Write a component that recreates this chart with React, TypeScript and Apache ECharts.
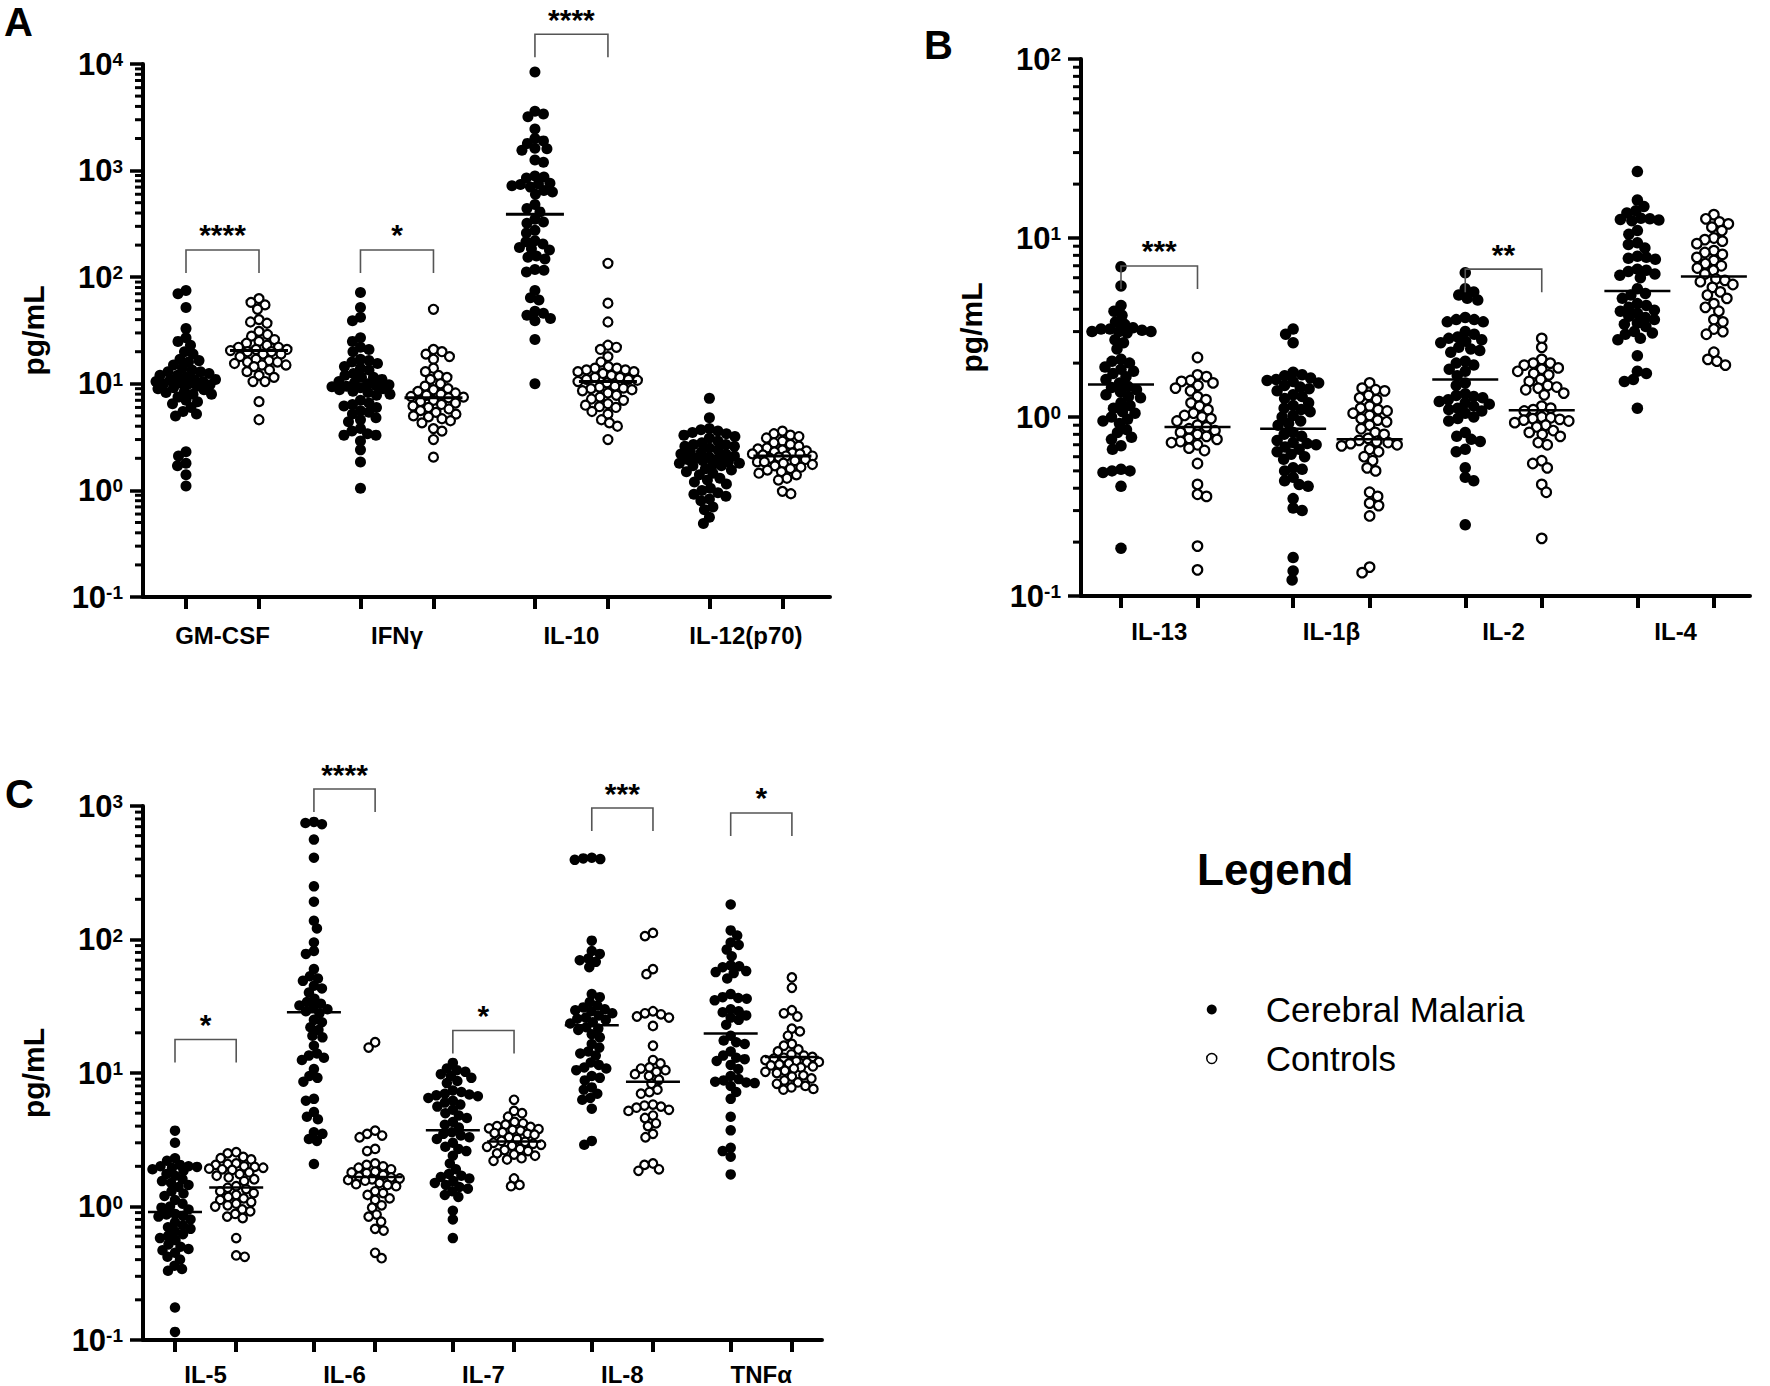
import React, { useEffect, useRef } from 'react';
import * as echarts from 'echarts';

const FONT = '"Liberation Sans", Arial, Helvetica, sans-serif';

// ---------------- Panel A ----------------
const panelACategories = ['GM-CSF', 'IFNγ', 'IL-10', 'IL-12(p70)'];
const gmcsfMalaria = [75, 70, 52, 33, 27, 25, 23, 20, 19, 17, 16.5, 16, 15, 14, 13.5, 13, 13, 12.5, 12, 12, 11.5, 11, 11, 10.8, 10.5, 10.5, 10.2, 10, 10, 9.8, 9.5, 9.2, 9, 8.8, 8.5, 8.3, 8, 8, 7.5, 7, 6.8, 6.5, 6, 5.5, 5.2, 5, 2.3, 2.1, 1.8, 1.7, 1.4, 1.1];
const gmcsfControls = [63, 58, 55, 50, 40, 38, 37, 31, 29, 28, 26, 25, 24, 23, 22, 22, 21, 21, 20.5, 20, 20, 19, 19, 18, 17, 16.5, 16, 16, 15.5, 15, 15, 14.5, 13.5, 13, 12, 11.5, 10.5, 10.5, 6.8, 4.6];
const ifngMalaria = [72, 52, 42, 39, 27, 25, 22, 21, 20, 17, 16.5, 16, 15.5, 14.5, 14, 13.5, 12.5, 12, 11.5, 11.5, 11, 10.5, 10.2, 10, 9.8, 9.6, 9.5, 9.4, 9.2, 9, 8.8, 8.5, 8.3, 8, 7.8, 7, 6.6, 6.4, 6.2, 6, 5.6, 5.4, 5.2, 4.8, 4.6, 4.4, 3.8, 3.6, 3.4, 3.3, 3.3, 2.9, 2.4, 1.85, 1.05];
const ifngControls = [50, 21, 20, 19, 18, 17, 14, 13, 12, 11.5, 11, 10, 9.5, 9, 8.8, 8.5, 8.2, 8, 7.8, 7.6, 7.5, 7.4, 7, 6.8, 6.6, 6.4, 6.2, 6, 5.8, 5.6, 5.4, 5.2, 5, 4.9, 4.7, 4.5, 4.3, 3.8, 3.6, 3.0, 2.05];
const il10Malaria = [8400, 3600, 3400, 3200, 2460, 2000, 1900, 1800, 1620, 1600, 1550, 1260, 1200, 890, 870, 850, 760, 750, 740, 720, 700, 650, 630, 600, 480, 440, 410, 350, 330, 320, 275, 260, 220, 215, 205, 190, 185, 180, 158, 154, 148, 118, 116, 112, 75, 64, 61, 48, 46, 44, 41, 39, 26, 10];
const il10Controls = [135, 57, 38, 23, 22, 21, 18, 16, 14.5, 14, 14, 13.5, 13.5, 13, 13, 12.5, 12, 11.5, 11.5, 11, 11, 10.8, 10.5, 10.2, 9.5, 9.3, 9.1, 9, 8.8, 8.6, 8.2, 7.8, 7.5, 7.2, 7, 6.5, 6.3, 6.1, 6, 5.5, 5.2, 4.6, 4.3, 4.0, 3.0];
const il12Malaria = [7.3, 4.8, 3.8, 3.7, 3.6, 3.5, 3.4, 3.3, 3.2, 3.1, 2.9, 2.8, 2.7, 2.7, 2.6, 2.6, 2.5, 2.4, 2.3, 2.3, 2.2, 2.2, 2.1, 2.05, 2.0, 2.0, 1.95, 1.9, 1.85, 1.8, 1.8, 1.75, 1.7, 1.7, 1.6, 1.55, 1.5, 1.45, 1.4, 1.3, 1.25, 1.2, 1.15, 1.05, 1.0, 0.95, 0.92, 0.88, 0.83, 0.8, 0.7, 0.66, 0.56, 0.49];
const il12Controls = [3.6, 3.4, 3.3, 3.2, 3.1, 2.9, 2.8, 2.7, 2.6, 2.5, 2.45, 2.4, 2.35, 2.3, 2.25, 2.2, 2.2, 2.15, 2.1, 2.1, 2.05, 2.0, 1.95, 1.9, 1.85, 1.85, 1.8, 1.75, 1.7, 1.65, 1.6, 1.55, 1.5, 1.45, 1.4, 1.3, 1.25, 0.98, 0.93];
const panelAMedianMalaria = [10.5, 9.5, 390, 1.93];
const panelAMedianControls = [20.5, 7.4, 10.5, 2.1];
const panelAStars = ['****', '*', '****', ''];
const panelABracketTop = [180, 180, 19000, 0];

// ---------------- Panel B ----------------
const panelBCategories = ['IL-13', 'IL-1β', 'IL-2', 'IL-4'];
const il13Malaria = [6.9, 5.4, 4.2, 3.9, 3.7, 3.4, 3.3, 3.15, 3.1, 3.1, 3.05, 3.0, 3.0, 3.0, 2.95, 2.7, 2.6, 2.4, 2.1, 2.05, 2.0, 1.9, 1.85, 1.8, 1.75, 1.68, 1.62, 1.55, 1.48, 1.46, 1.42, 1.38, 1.33, 1.3, 1.28, 1.2, 1.16, 1.12, 1.07, 1.05, 1.0, 0.97, 0.95, 0.92, 0.85, 0.82, 0.77, 0.75, 0.69, 0.66, 0.51, 0.5, 0.5, 0.49, 0.41, 0.185];
const il13Controls = [2.15, 1.72, 1.68, 1.6, 1.58, 1.55, 1.5, 1.45, 1.4, 1.3, 1.25, 1.2, 1.15, 1.1, 1.05, 1.02, 1.0, 0.98, 0.95, 0.9, 0.88, 0.86, 0.84, 0.82, 0.8, 0.78, 0.76, 0.75, 0.73, 0.72, 0.7, 0.67, 0.65, 0.55, 0.42, 0.37, 0.36, 0.19, 0.14];
const il1bMalaria = [3.1, 2.9, 2.6, 1.78, 1.72, 1.7, 1.65, 1.62, 1.6, 1.58, 1.55, 1.5, 1.47, 1.44, 1.4, 1.33, 1.3, 1.27, 1.2, 1.16, 1.12, 1.1, 1.07, 1.02, 1.0, 0.95, 0.92, 0.9, 0.82, 0.8, 0.78, 0.74, 0.72, 0.71, 0.7, 0.68, 0.66, 0.64, 0.62, 0.6, 0.58, 0.52, 0.51, 0.5, 0.46, 0.44, 0.42, 0.41, 0.35, 0.31, 0.3, 0.164, 0.138, 0.123];
const il1bControls = [1.55, 1.45, 1.42, 1.4, 1.32, 1.28, 1.25, 1.15, 1.12, 1.1, 1.08, 1.05, 1.02, 0.98, 0.96, 0.94, 0.9, 0.86, 0.82, 0.8, 0.76, 0.74, 0.73, 0.72, 0.71, 0.7, 0.69, 0.66, 0.64, 0.6, 0.57, 0.52, 0.5, 0.38, 0.36, 0.33, 0.32, 0.28, 0.145, 0.135];
const il2Malaria = [6.4, 5.2, 5.0, 4.8, 4.6, 4.5, 3.6, 3.5, 3.5, 3.4, 3.4, 3.0, 2.9, 2.8, 2.75, 2.7, 2.65, 2.6, 2.45, 2.4, 2.35, 2.3, 2.05, 2.0, 1.95, 1.85, 1.8, 1.7, 1.55, 1.5, 1.35, 1.32, 1.3, 1.28, 1.25, 1.22, 1.2, 1.18, 1.15, 1.12, 1.1, 1.08, 1.05, 1.0, 0.98, 0.95, 0.82, 0.78, 0.75, 0.73, 0.66, 0.64, 0.52, 0.46, 0.44, 0.25];
const il2Controls = [2.75, 2.45, 2.1, 2.0, 2.0, 1.95, 1.88, 1.85, 1.8, 1.75, 1.72, 1.62, 1.58, 1.5, 1.47, 1.45, 1.42, 1.36, 1.33, 1.15, 1.12, 1.1, 1.08, 1.0, 0.99, 0.98, 0.97, 0.96, 0.95, 0.93, 0.9, 0.88, 0.84, 0.82, 0.8, 0.78, 0.72, 0.7, 0.57, 0.55, 0.52, 0.42, 0.38, 0.21];
const il4Malaria = [23.5, 16.3, 15, 14.2, 13.8, 12.9, 12.8, 12.7, 12.6, 12.5, 11, 10.5, 9.4, 9.2, 8.8, 7.9, 7.8, 7.7, 7.6, 6.7, 6.6, 6.5, 6.3, 6.2, 6.0, 5.2, 4.9, 4.8, 4.6, 4.3, 4.2, 4.1, 3.95, 3.9, 3.8, 3.65, 3.6, 3.5, 3.35, 3.3, 3.2, 3.0, 2.95, 2.9, 2.75, 2.7, 2.2, 1.8, 1.75, 1.62, 1.58, 1.12];
const il4Controls = [13.5, 12.8, 12.3, 12, 11.5, 11, 10, 9.8, 9.6, 9.3, 8.5, 8.3, 8.1, 7.8, 7.5, 7.2, 7.0, 6.8, 6.6, 6.3, 5.9, 5.8, 5.7, 5.5, 5.3, 5.0, 4.8, 4.6, 4.3, 4.1, 3.9, 3.5, 3.4, 3.1, 3.0, 2.9, 2.3, 2.1, 2.05, 1.95];
const panelBMedianMalaria = [1.52, 0.86, 1.62, 5.05];
const panelBMedianControls = [0.88, 0.75, 1.09, 6.1];
const panelBStars = ['***', '', '**', ''];
const panelBBracketTop = [6.98, 0, 6.7, 0];

// ---------------- Panel C ----------------
const panelCCategories = ['IL-5', 'IL-6', 'IL-7', 'IL-8', 'TNFα'];
const il5Malaria = [3.7, 3.0, 2.3, 2.2, 2.05, 2.0, 2.0, 1.98, 1.95, 1.9, 1.85, 1.75, 1.7, 1.6, 1.55, 1.5, 1.45, 1.4, 1.3, 1.25, 1.2, 1.12, 1.05, 1.0, 0.98, 0.95, 0.88, 0.87, 0.85, 0.84, 0.8, 0.76, 0.72, 0.7, 0.68, 0.65, 0.62, 0.6, 0.58, 0.56, 0.52, 0.5, 0.48, 0.47, 0.45, 0.42, 0.4, 0.36, 0.34, 0.33, 0.175, 0.115];
const il5Controls = [2.55, 2.5, 2.35, 2.3, 2.25, 2.1, 2.08, 2.05, 2.0, 1.98, 1.95, 1.92, 1.9, 1.88, 1.8, 1.75, 1.7, 1.65, 1.6, 1.55, 1.42, 1.38, 1.35, 1.3, 1.26, 1.22, 1.18, 1.15, 1.12, 1.08, 1.05, 1.02, 1.0, 0.95, 0.92, 0.88, 0.84, 0.82, 0.58, 0.43, 0.42];
const il6Malaria = [760, 745, 730, 560, 410, 250, 192, 138, 121, 95, 82, 78, 60, 53, 51, 49, 45, 43, 40, 36, 34, 33, 32, 31, 30, 29, 28, 25, 24, 22, 21, 19, 18.5, 16, 14, 13.5, 13, 12.5, 10.7, 9.5, 9.2, 8.6, 6.4, 6.2, 5.1, 4.7, 4.5, 3.6, 3.5, 3.2, 3.1, 2.08];
const il6Controls = [17, 15.5, 3.7, 3.5, 3.4, 3.3, 2.7, 2.6, 2.1, 2.05, 2.0, 1.95, 1.9, 1.82, 1.8, 1.78, 1.72, 1.68, 1.65, 1.62, 1.6, 1.58, 1.56, 1.5, 1.47, 1.45, 1.42, 1.3, 1.26, 1.22, 1.15, 1.12, 1.02, 0.98, 0.87, 0.84, 0.77, 0.68, 0.66, 0.45, 0.41];
const il7Malaria = [11.9, 10.8, 10.5, 10.2, 9.8, 9.5, 9.2, 8.7, 8.4, 7.4, 7.2, 7.0, 6.9, 6.8, 6.7, 6.5, 6.2, 6.0, 5.8, 5.6, 5.3, 5.0, 4.8, 4.6, 4.3, 4.1, 3.9, 3.6, 3.5, 3.4, 3.3, 3.2, 3.0, 2.8, 2.7, 2.6, 2.4, 2.1, 1.9, 1.75, 1.7, 1.66, 1.62, 1.55, 1.5, 1.45, 1.4, 1.36, 1.3, 1.22, 1.18, 0.93, 0.8, 0.58];
const il7Controls = [6.3, 5.2, 5.0, 4.7, 4.3, 4.2, 4.1, 4.0, 3.95, 3.85, 3.8, 3.75, 3.7, 3.6, 3.55, 3.5, 3.45, 3.3, 3.2, 3.1, 3.05, 3.0, 2.95, 2.9, 2.85, 2.8, 2.7, 2.65, 2.6, 2.5, 2.45, 2.4, 2.3, 2.25, 2.2, 1.62, 1.45, 1.42];
const il8Malaria = [410, 405, 400, 395, 98, 82, 78, 72, 70, 68, 62, 39, 37, 34, 32, 31, 30, 29.5, 29, 28, 27, 26, 25.5, 25, 24, 23.5, 22, 21.5, 21, 19.5, 18.5, 16.5, 15.5, 14.5, 14, 13.5, 12, 11.5, 11, 10.8, 10.5, 9.5, 9.2, 8.8, 7.8, 7.5, 7.0, 6.5, 6.3, 5.4, 3.1, 2.9];
const il8Controls = [112, 106, 60, 55, 29, 28, 27.5, 26.5, 26, 22.5, 16, 12.5, 11.8, 11, 10.8, 10.5, 10.2, 9.8, 9.5, 8.9, 8.3, 7.5, 7.2, 7.0, 5.8, 5.7, 5.6, 5.5, 5.3, 5.2, 4.8, 4.6, 4.2, 4.0, 3.5, 3.3, 2.1, 2.05, 1.9, 1.85];
const tnfMalaria = [183, 117, 107, 95, 91, 84, 75, 64, 63, 62, 58, 57, 56, 51, 39, 37, 36.5, 36, 35, 30, 29, 28.5, 27, 26, 25, 23, 19, 17.5, 17, 16.5, 14.5, 13.5, 13, 12.7, 12.3, 11.5, 10.7, 9.5, 9.0, 8.8, 8.6, 8.5, 8.4, 8.0, 7.2, 6.4, 4.7, 3.72, 2.75, 2.6, 2.36, 1.74];
const tnfControls = [52, 43.5, 29.5, 28, 26.5, 21.5, 20.5, 19, 16.5, 16, 15, 14.5, 13.8, 13.5, 13.2, 13, 12.8, 12.5, 12.3, 12.1, 12, 11.8, 11.6, 11.4, 11.2, 11, 10.8, 10.4, 10.2, 10, 9.6, 9.4, 9.1, 8.8, 8.5, 8.3, 8.0, 7.8, 7.6, 7.5];
const panelCMedianMalaria = [0.91, 28.5, 3.72, 22.8, 19.8];
const panelCMedianControls = [1.39, 1.66, 3.07, 8.6, 13.2];
const panelCStars = ['*', '****', '*', '***', '*'];
const panelCBracketTop = [17.8, 1340, 20.8, 966, 887];

// ---------------- Layout (pixels) ----------------
const panels = [
  {
    cats: panelACategories,
    malaria: [gmcsfMalaria, ifngMalaria, il10Malaria, il12Malaria],
    controls: [gmcsfControls, ifngControls, il10Controls, il12Controls],
    medM: panelAMedianMalaria, medC: panelAMedianControls,
    stars: panelAStars, tops: panelABracketTop,
    left: 143, top: 64, width: 687, height: 533, x0: 186, unit: 73, gap: 2.39,
    yMin: 0.1, yMax: 10000, dot: 11, maxHalf: 30, medHalf: 29, medWidth: 3, labelMargin: 26,
  },
  {
    cats: panelBCategories,
    malaria: [il13Malaria, il1bMalaria, il2Malaria, il4Malaria],
    controls: [il13Controls, il1bControls, il2Controls, il4Controls],
    medM: panelBMedianMalaria, medC: panelBMedianControls,
    stars: panelBStars, tops: panelBBracketTop,
    left: 1081, top: 59, width: 669, height: 537, x0: 1121, unit: 76.5, gap: 2.25,
    yMin: 0.1, yMax: 100, dot: 11.5, maxHalf: 34, medHalf: 33, medWidth: 2.5, labelMargin: 23,
  },
  {
    cats: panelCCategories,
    malaria: [il5Malaria, il6Malaria, il7Malaria, il8Malaria, tnfMalaria],
    controls: [il5Controls, il6Controls, il7Controls, il8Controls, tnfControls],
    medM: panelCMedianMalaria, medC: panelCMedianControls,
    stars: panelCStars, tops: panelCBracketTop,
    left: 143, top: 806, width: 679, height: 535, x0: 175, unit: 61.2, gap: 2.27,
    yMin: 0.1, yMax: 1000, dot: 10.5, maxHalf: 27, medHalf: 27, medWidth: 2.5, labelMargin: 22,
  },
];

// beeswarm placement of the points of one group (horizontal offsets only)
function swarm(values: number[], center: number, unitPx: number, ppd: number, d: number, maxHalf: number): number[][] {
  const order = values.map((_, i) => i).sort((a, b) => values[b] - values[a]);
  const placed: { x: number; y: number }[] = [];
  const out: number[][] = [];
  let flip = 1;
  for (const i of order) {
    const y = Math.log10(values[i]) * ppd;
    let chosen: number | null = null;
    let best = 0;
    let bestDist = -1;
    for (let k = 0; k * 0.5 <= maxHalf; k++) {
      const step = k * 0.5;
      const cands = k === 0 ? [0] : [flip * step, -flip * step];
      for (const dx of cands) {
        let minD = Infinity;
        for (const p of placed) {
          const ex = dx - p.x;
          const ey = y - p.y;
          const dd = Math.sqrt(ex * ex + ey * ey);
          if (dd < minD) minD = dd;
        }
        if (minD >= d) { chosen = dx; break; }
        if (minD > bestDist + 0.01) { bestDist = minD; best = dx; }
      }
      if (chosen !== null) break;
    }
    const x = chosen !== null ? chosen : best;
    flip = -flip;
    placed.push({ x, y });
    out.push([center + x / unitPx, values[i]]);
  }
  return out;
}

function buildOption() {
  const grid: any[] = [];
  const xAxis: any[] = [];
  const yAxis: any[] = [];
  const series: any[] = [];

  panels.forEach((p, i) => {
    const xMin = (p.left - p.x0) / p.unit;
    const xMax = (p.left + p.width - p.x0) / p.unit;
    const ppd = p.height / (Math.log10(p.yMax) - Math.log10(p.yMin));
    const xs = p.cats.map((_, g) => g * p.gap);
    const tickVals: number[] = [];
    xs.forEach((x) => { tickVals.push(x, x + 1); });
    const centers = xs.map((x) => x + 0.5);
    const spacing = p.dot * 0.78;

    grid.push({ left: p.left, top: p.top, width: p.width, height: p.height, containLabel: false });

    xAxis.push({
      gridIndex: i, type: 'value', min: xMin, max: xMax,
      axisLine: { show: true, onZero: false, lineStyle: { color: '#000', width: 4 } },
      axisTick: { show: true, customValues: tickVals, length: 12, lineStyle: { color: '#000', width: 4 } },
      axisLabel: {
        customValues: centers,
        formatter: (v: number) => {
          const k = centers.findIndex((c) => Math.abs(c - v) < 0.01);
          return k >= 0 ? p.cats[k] : '';
        },
        margin: p.labelMargin, fontSize: 24, fontWeight: 'bold', color: '#000', fontFamily: FONT,
      },
      splitLine: { show: false },
    });

    yAxis.push({
      gridIndex: i, type: 'log', logBase: 10, min: p.yMin, max: p.yMax,
      axisLine: { show: true, onZero: false, lineStyle: { color: '#000', width: 4 } },
      axisTick: { show: true, length: 13, lineStyle: { color: '#000', width: 3.5 } },
      axisLabel: {
        margin: 20,
        formatter: (v: number) => '{b|10}{s|' + Math.round(Math.log10(v)) + '}',
        rich: {
          b: { fontSize: 31, fontWeight: 'bold', fontFamily: FONT, color: '#000', lineHeight: 28 },
          s: { fontSize: 19, fontWeight: 'bold', fontFamily: FONT, color: '#000', lineHeight: 18, verticalAlign: 'top' },
        },
      },
      splitLine: { show: false },
      name: 'pg/mL', nameLocation: 'middle', nameGap: 95,
      nameTextStyle: { fontSize: 30, fontWeight: 'bold', fontFamily: FONT, color: '#000' },
    });

    const malariaPts: number[][] = [];
    const controlPts: number[][] = [];
    p.malaria.forEach((vals, g) => malariaPts.push(...swarm(vals, xs[g], p.unit, ppd, spacing, p.maxHalf)));
    p.controls.forEach((vals, g) => controlPts.push(...swarm(vals, xs[g] + 1, p.unit, ppd, spacing, p.maxHalf)));

    series.push({
      name: 'Cerebral Malaria', type: 'scatter', xAxisIndex: i, yAxisIndex: i, silent: true, z: 2,
      symbol: 'circle', symbolSize: p.dot, itemStyle: { color: '#000', opacity: 1 }, data: malariaPts,
    });
    series.push({
      name: 'Controls', type: 'scatter', xAxisIndex: i, yAxisIndex: i, silent: true, z: 2,
      symbol: 'circle', symbolSize: p.dot - 2,
      itemStyle: { color: '#fff', borderColor: '#000', borderWidth: 2.2, opacity: 1 }, data: controlPts,
    });

    // medians
    const medians: number[][] = [];
    xs.forEach((x, g) => { medians.push([x, p.medM[g]]); medians.push([x + 1, p.medC[g]]); });
    series.push({
      type: 'custom', xAxisIndex: i, yAxisIndex: i, silent: true, z: 5, clip: false,
      data: medians,
      renderItem: (_params: any, api: any) => {
        const c = api.coord([api.value(0), api.value(1)]);
        return {
          type: 'line',
          shape: { x1: c[0] - p.medHalf, y1: c[1], x2: c[0] + p.medHalf, y2: c[1] },
          style: { stroke: '#000', lineWidth: p.medWidth },
        };
      },
    });

    // minor ticks on the log axis
    const minor: number[][] = [];
    for (let e = Math.round(Math.log10(p.yMin)); e < Math.round(Math.log10(p.yMax)); e++) {
      for (let m = 2; m <= 9; m++) minor.push([xMin, m * Math.pow(10, e)]);
    }
    series.push({
      type: 'custom', xAxisIndex: i, yAxisIndex: i, silent: true, z: 5, clip: false,
      data: minor,
      renderItem: (_params: any, api: any) => {
        const c = api.coord([api.value(0), api.value(1)]);
        return {
          type: 'line',
          shape: { x1: c[0] - 8, y1: c[1], x2: c[0], y2: c[1] },
          style: { stroke: '#000', lineWidth: 3 },
        };
      },
    });

    // significance brackets
    const brackets: { value: number[]; stars: string }[] = [];
    xs.forEach((x, g) => {
      if (p.stars[g]) brackets.push({ value: [x, x + 1, p.tops[g]], stars: p.stars[g] });
    });
    series.push({
      type: 'custom', xAxisIndex: i, yAxisIndex: i, silent: true, z: 5, clip: false,
      encode: { x: [0, 1], y: 2 },
      data: brackets.map((b) => b.value),
      renderItem: (params: any, api: any) => {
        const a = api.coord([api.value(0), api.value(2)]);
        const b = api.coord([api.value(1), api.value(2)]);
        const leg = 23;
        return {
          type: 'group',
          children: [
            {
              type: 'polyline',
              shape: { points: [[a[0], a[1] + leg], [a[0], a[1]], [b[0], b[1]], [b[0], b[1] + leg]] },
              style: { stroke: '#555', lineWidth: 1.6, fill: null },
            },
            {
              type: 'text', x: (a[0] + b[0]) / 2, y: a[1] - 15,
              style: {
                text: brackets[params.dataIndex].stars, fill: '#000', fontSize: 30, fontWeight: 'bold',
                fontFamily: FONT, align: 'center', verticalAlign: 'middle',
              },
            },
          ],
        };
      },
    });
  });

  return {
    animation: false,
    backgroundColor: '#fff',
    grid, xAxis, yAxis, series,
    legend: {
      data: [
        { name: 'Cerebral Malaria', icon: 'circle', itemStyle: { color: '#000', borderWidth: 0 } },
        { name: 'Controls', icon: 'circle', itemStyle: { color: '#fff', borderColor: '#000', borderWidth: 1.5 } },
      ],
      orient: 'vertical', left: 1206, top: 992, padding: 0,
      itemWidth: 10, itemHeight: 10, itemGap: 14, selectedMode: false,
      textStyle: { fontSize: 35, fontFamily: FONT, color: '#000', padding: [0, 0, 0, 44] },
    },
    graphic: [
      { type: 'text', x: 4, y: 22, style: { text: 'A', fontSize: 40, fontWeight: 'bold', fontFamily: FONT, fill: '#000', verticalAlign: 'middle' } },
      { type: 'text', x: 924, y: 45, style: { text: 'B', fontSize: 40, fontWeight: 'bold', fontFamily: FONT, fill: '#000', verticalAlign: 'middle' } },
      { type: 'text', x: 5, y: 794, style: { text: 'C', fontSize: 40, fontWeight: 'bold', fontFamily: FONT, fill: '#000', verticalAlign: 'middle' } },
      { type: 'text', x: 1197, y: 869, style: { text: 'Legend', fontSize: 44, fontWeight: 'bold', fontFamily: FONT, fill: '#000', verticalAlign: 'middle' } },
    ],
  };
}

export default function App() {
  const ref = useRef<HTMLDivElement>(null);
  useEffect(() => {
    document.body.style.margin = '0';
    const chart = echarts.init(ref.current as HTMLDivElement, null, { renderer: 'svg' });
    chart.setOption(buildOption() as any);
    return () => chart.dispose();
  }, []);
  return <div ref={ref} style={{ width: 1770, height: 1386 }} />;
}
